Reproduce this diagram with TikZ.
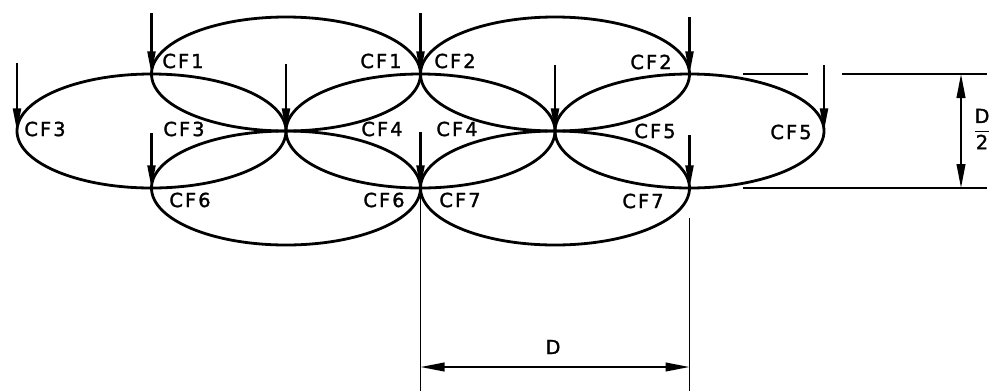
\documentclass[tikz,border=0pt]{standalone}
\usepackage{fontspec}
\setmainfont{DejaVu Sans}
\setsansfont{DejaVu Sans}
\newfontfamily\labfont{DejaVu Sans}[FakeBold=1.6]
\usetikzlibrary{arrows.meta}
\newcommand\cflab[1]{C\kern1.6pt F\kern1.6pt #1}
\begin{document}
\begin{tikzpicture}[x=0.75pt,y=-0.75pt,
  ell/.style={line width=2.1pt},
  force/.style={line width=1.6pt,-{Triangle[length=17pt,width=6pt]}},
  dimline/.style={line width=1.4pt},
  dimarrow/.style={line width=1.4pt,{Triangle[length=18pt,width=6.5pt]}-{Triangle[length=18pt,width=6.5pt]}},
  lab/.style={font=\labfont\fontsize{14.5}{14.5}\selectfont, inner sep=0pt}]
\useasboundingbox[fill=white] (0,0) rectangle (991,390);

% ellipse centres
\coordinate (e1) at (286,74);
\coordinate (e2) at (555,74);
\coordinate (e3) at (151.5,131);
\coordinate (e4) at (420.5,131);
\coordinate (e5) at (689.5,131);
\coordinate (e6) at (286,188);
\coordinate (e7) at (555,188);
\foreach \e in {e1,e2,e3,e4,e5,e6,e7}
  \draw[ell] (\e) ellipse [x radius=100.875pt, y radius=42.75pt];

% vertices (arrow tips)
\coordinate (t1) at (151.5,74);
\coordinate (t2) at (420.5,74);
\coordinate (t3) at (689.5,74);
\coordinate (m0) at (17,131);
\coordinate (m1) at (286,131);
\coordinate (m2) at (555,131);
\coordinate (m3) at (824,131);
\coordinate (b1) at (151.5,188);
\coordinate (b2) at (420.5,188);
\coordinate (b3) at (689.5,188);
% arrow starts
\coordinate (st1) at (151.5,13);
\coordinate (st2) at (420.5,13);
\coordinate (st3) at (689.5,17);
\coordinate (sm0) at (17,63);
\coordinate (sm1) at (286,64);
\coordinate (sm2) at (555,65);
\coordinate (sm3) at (824,65);
\coordinate (sb1) at (151.5,133);
\coordinate (sb2) at (420.5,132);
\coordinate (sb3) at (689.5,135);
\foreach \s/\t in {st1/t1,st2/t2,st3/t3,sm0/m0,sm1/m1,sm2/m2,sm3/m3,sb1/b1,sb2/b2,sb3/b3}
  \draw[force] (\s) -- (\t);

% labels
\node[lab] (l1a) at (183,61) {\cflab{1}};
\node[lab] (l1b) at (381,61) {\cflab{1}};
\node[lab] (l2a) at (455,61) {\cflab{2}};
\node[lab] (l2b) at (651,62) {\cflab{2}};
\node[lab] (l3a) at (45,129) {\cflab{3}};
\node[lab] (l3b) at (184,129) {\cflab{3}};
\node[lab] (l4a) at (382,129) {\cflab{4}};
\node[lab] (l4b) at (457,129) {\cflab{4}};
\node[lab] (l5a) at (655,131) {\cflab{5}};
\node[lab] (l5b) at (791,132) {\cflab{5}};
\node[lab] (l6a) at (190,200) {\cflab{6}};
\node[lab] (l6b) at (384,200) {\cflab{6}};
\node[lab] (l7a) at (460,200) {\cflab{7}};
\node[lab] (l7b) at (643,201) {\cflab{7}};

% dimension D/2
\coordinate (h1a) at (743,74);
\coordinate (h1b) at (808,74);
\coordinate (h1c) at (842,74);
\coordinate (h1d) at (987,74);
\coordinate (h2a) at (743,188);
\coordinate (h2d) at (987,188);
\coordinate (va) at (961,74);
\coordinate (vb) at (961,188);
\draw[dimline] (h1a) -- (h1b) (h1c) -- (h1d) (h2a) -- (h2d);
\draw[dimarrow] (va) -- (vb);
\node[lab] (dhalf) at (982,129) {$\displaystyle\frac{\hbox{D}}{\hbox{2}}$};

% dimension D
\coordinate (w1) at (420.5,392);
\coordinate (w2a) at (689.5,218);
\coordinate (w2) at (689.5,392);
\coordinate (da) at (420.5,367);
\coordinate (db) at (689.5,367);
\draw[dimline] (b2) -- (w1) (w2a) -- (w2);
\draw[dimarrow] (da) -- (db);
\node[lab] (dfull) at (553,347) {D};
\end{tikzpicture}
\end{document}
